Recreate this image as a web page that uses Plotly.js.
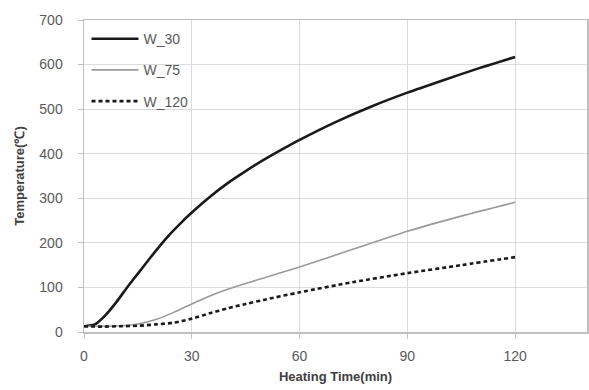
<!DOCTYPE html>
<html>
<head>
<meta charset="utf-8">
<script src="https://cdn.plot.ly/plotly-3.0.1.min.js"></script>
<style>html,body{margin:0;padding:0;background:#fff;}#chart{width:589px;height:390px;}</style>
</head>
<body>
<div id="chart"></div>
<script>
// Heating time (min) and temperature (℃)
const timeW30 = [0, 3, 6, 9, 12, 15, 18, 21, 24, 27, 30, 35, 40, 45, 50, 55, 60, 70, 80, 90, 100, 110, 120];
const tempW30 = [13, 17, 38, 67, 100, 131, 162, 192, 220, 245, 268, 303, 334, 361, 386, 409, 431, 471, 506, 537, 565, 592, 617];

const timeW75 = [0, 5, 10, 15, 20, 25, 30, 35, 40, 45, 50, 60, 75, 90, 105, 120];
const tempW75 = [13, 13, 14, 18, 28, 44, 63, 81, 96, 109, 121, 146, 186, 226, 260, 291];

const timeW120 = [0, 5, 10, 15, 20, 25, 30, 35, 40, 45, 50, 60, 75, 90, 105, 120];
const tempW120 = [13, 12, 13, 14, 17, 21, 30, 42, 53, 63, 72, 89, 112, 132, 150, 168];

const seriesNames = ["W_30", "W_75", "W_120"];
const xTicks = [0, 30, 60, 90, 120];
const yTicks = [0, 100, 200, 300, 400, 500, 600, 700];

const font = "Liberation Sans, Arial, sans-serif";
const traces = [
  {x: timeW30, y: tempW30, name: seriesNames[0], legendgroup: "a", mode: "lines",
   line: {color: "#1a1a1a", width: 2.6, shape: "spline", smoothing: 0.6}},
  {x: timeW75, y: tempW75, name: seriesNames[1], legendgroup: "b", mode: "lines",
   line: {color: "#9a9a9a", width: 1.6, shape: "spline", smoothing: 0.8}},
  {x: timeW120, y: tempW120, name: seriesNames[2], legendgroup: "c", mode: "lines",
   line: {color: "#1a1a1a", width: 2.6, dash: "4px,3px", shape: "spline", smoothing: 0.8}}
];

const layout = {
  width: 589, height: 390,
  margin: {l: 84, r: 2, t: 20, b: 58},
  paper_bgcolor: "#ffffff", plot_bgcolor: "#ffffff",
  font: {family: font, size: 14, color: "#595959"},
  showlegend: true,
  legend: {x: 0.005, y: 0.99, xanchor: "left", yanchor: "top",
    bgcolor: "rgba(0,0,0,0)", tracegroupgap: 10, itemwidth: 47,
    font: {family: font, size: 14, color: "#595959"}},
  xaxis: {
    range: [0, 140], tickvals: xTicks, ticktext: xTicks.map(String),
    showgrid: true, gridcolor: "#dcdcdc", gridwidth: 1,
    showline: true, linecolor: "#bfbfbf", linewidth: 1.5, mirror: true,
    ticks: "outside", ticklen: 5, tickcolor: "#bfbfbf", ticklabelstandoff: 6,
    zeroline: false,
    title: {text: "<b>Heating Time(min)</b>", font: {family: font, size: 13, color: "#404040"}, standoff: 8}
  },
  yaxis: {
    range: [0, 700], tickvals: yTicks, ticktext: yTicks.map(String),
    showgrid: true, gridcolor: "#dcdcdc", gridwidth: 1,
    showline: true, linecolor: "#bfbfbf", linewidth: 1.5, mirror: true,
    ticks: "outside", ticklen: 5, tickcolor: "#bfbfbf", ticklabelstandoff: 12,
    zeroline: false,
    title: {text: "<b>Temperature(℃)</b>", font: {family: font, size: 13, color: "#404040"}, standoff: 12}
  }
};

Plotly.newPlot("chart", traces, layout, {displayModeBar: false, staticPlot: true});
</script>
</body>
</html>
